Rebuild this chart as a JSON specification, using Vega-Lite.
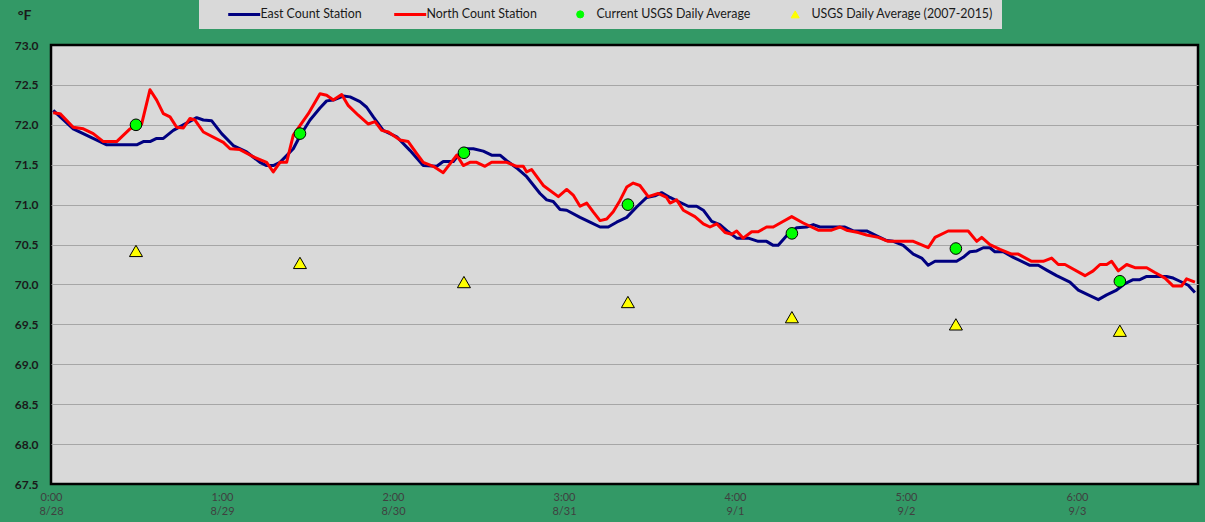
{
  "$schema": "https://vega.github.io/schema/vega-lite/v6.json",
  "width": 1147,
  "height": 439,
  "autosize": {"type": "none"},
  "padding": {"left": 51, "top": 45, "right": 7, "bottom": 38},
  "background": "#339966",
  "config": {
    "font": "Lato",
    "view": {"fill": "#d9d9d9", "stroke": "#000000", "strokeWidth": 2.5},
    "axisY": {"labelOverlap": false, "labelFlush": false}
  },
  "data": {
    "values": [
      {"s": "East Count Station", "t": 0.013, "v": 72.18},
      {"s": "East Count Station", "t": 0.13, "v": 71.95},
      {"s": "East Count Station", "t": 0.326, "v": 71.75},
      {"s": "East Count Station", "t": 0.501, "v": 71.75},
      {"s": "East Count Station", "t": 0.54, "v": 71.79},
      {"s": "East Count Station", "t": 0.579, "v": 71.79},
      {"s": "East Count Station", "t": 0.618, "v": 71.83},
      {"s": "East Count Station", "t": 0.657, "v": 71.83},
      {"s": "East Count Station", "t": 0.715, "v": 71.93},
      {"s": "East Count Station", "t": 0.774, "v": 72.0},
      {"s": "East Count Station", "t": 0.852, "v": 72.09},
      {"s": "East Count Station", "t": 0.891, "v": 72.06},
      {"s": "East Count Station", "t": 0.94, "v": 72.05},
      {"s": "East Count Station", "t": 0.998, "v": 71.89},
      {"s": "East Count Station", "t": 1.066, "v": 71.74},
      {"s": "East Count Station", "t": 1.144, "v": 71.66},
      {"s": "East Count Station", "t": 1.222, "v": 71.53},
      {"s": "East Count Station", "t": 1.261, "v": 71.49},
      {"s": "East Count Station", "t": 1.3, "v": 71.49},
      {"s": "East Count Station", "t": 1.339, "v": 71.53},
      {"s": "East Count Station", "t": 1.417, "v": 71.7},
      {"s": "East Count Station", "t": 1.456, "v": 71.86},
      {"s": "East Count Station", "t": 1.515, "v": 72.06},
      {"s": "East Count Station", "t": 1.573, "v": 72.21},
      {"s": "East Count Station", "t": 1.612, "v": 72.3},
      {"s": "East Count Station", "t": 1.651, "v": 72.31},
      {"s": "East Count Station", "t": 1.709, "v": 72.36},
      {"s": "East Count Station", "t": 1.749, "v": 72.35},
      {"s": "East Count Station", "t": 1.807, "v": 72.29},
      {"s": "East Count Station", "t": 1.846, "v": 72.22},
      {"s": "East Count Station", "t": 1.885, "v": 72.1},
      {"s": "East Count Station", "t": 1.943, "v": 71.93},
      {"s": "East Count Station", "t": 2.022, "v": 71.85},
      {"s": "East Count Station", "t": 2.099, "v": 71.68},
      {"s": "East Count Station", "t": 2.177, "v": 71.49},
      {"s": "East Count Station", "t": 2.256, "v": 71.48},
      {"s": "East Count Station", "t": 2.294, "v": 71.54},
      {"s": "East Count Station", "t": 2.353, "v": 71.54},
      {"s": "East Count Station", "t": 2.411, "v": 71.7},
      {"s": "East Count Station", "t": 2.47, "v": 71.7},
      {"s": "East Count Station", "t": 2.528, "v": 71.67},
      {"s": "East Count Station", "t": 2.577, "v": 71.62},
      {"s": "East Count Station", "t": 2.626, "v": 71.62},
      {"s": "East Count Station", "t": 2.665, "v": 71.55},
      {"s": "East Count Station", "t": 2.723, "v": 71.46},
      {"s": "East Count Station", "t": 2.782, "v": 71.35},
      {"s": "East Count Station", "t": 2.86, "v": 71.14},
      {"s": "East Count Station", "t": 2.899, "v": 71.06},
      {"s": "East Count Station", "t": 2.937, "v": 71.04},
      {"s": "East Count Station", "t": 2.977, "v": 70.94},
      {"s": "East Count Station", "t": 3.016, "v": 70.93},
      {"s": "East Count Station", "t": 3.094, "v": 70.84},
      {"s": "East Count Station", "t": 3.152, "v": 70.78},
      {"s": "East Count Station", "t": 3.211, "v": 70.72},
      {"s": "East Count Station", "t": 3.259, "v": 70.72},
      {"s": "East Count Station", "t": 3.308, "v": 70.78},
      {"s": "East Count Station", "t": 3.367, "v": 70.84},
      {"s": "East Count Station", "t": 3.425, "v": 70.97},
      {"s": "East Count Station", "t": 3.484, "v": 71.09},
      {"s": "East Count Station", "t": 3.532, "v": 71.11},
      {"s": "East Count Station", "t": 3.571, "v": 71.15},
      {"s": "East Count Station", "t": 3.62, "v": 71.09},
      {"s": "East Count Station", "t": 3.678, "v": 71.03},
      {"s": "East Count Station", "t": 3.727, "v": 70.98},
      {"s": "East Count Station", "t": 3.776, "v": 70.98},
      {"s": "East Count Station", "t": 3.815, "v": 70.93},
      {"s": "East Count Station", "t": 3.864, "v": 70.79},
      {"s": "East Count Station", "t": 3.912, "v": 70.75},
      {"s": "East Count Station", "t": 3.961, "v": 70.66},
      {"s": "East Count Station", "t": 4.01, "v": 70.58},
      {"s": "East Count Station", "t": 4.078, "v": 70.58},
      {"s": "East Count Station", "t": 4.136, "v": 70.54},
      {"s": "East Count Station", "t": 4.185, "v": 70.54},
      {"s": "East Count Station", "t": 4.224, "v": 70.49},
      {"s": "East Count Station", "t": 4.253, "v": 70.49},
      {"s": "East Count Station", "t": 4.302, "v": 70.61},
      {"s": "East Count Station", "t": 4.361, "v": 70.71},
      {"s": "East Count Station", "t": 4.419, "v": 70.72},
      {"s": "East Count Station", "t": 4.458, "v": 70.75},
      {"s": "East Count Station", "t": 4.497, "v": 70.72},
      {"s": "East Count Station", "t": 4.575, "v": 70.72},
      {"s": "East Count Station", "t": 4.643, "v": 70.72},
      {"s": "East Count Station", "t": 4.692, "v": 70.67},
      {"s": "East Count Station", "t": 4.77, "v": 70.67},
      {"s": "East Count Station", "t": 4.829, "v": 70.61},
      {"s": "East Count Station", "t": 4.887, "v": 70.55},
      {"s": "East Count Station", "t": 4.926, "v": 70.54},
      {"s": "East Count Station", "t": 4.984, "v": 70.49},
      {"s": "East Count Station", "t": 5.043, "v": 70.38},
      {"s": "East Count Station", "t": 5.092, "v": 70.33},
      {"s": "East Count Station", "t": 5.13, "v": 70.24},
      {"s": "East Count Station", "t": 5.17, "v": 70.29},
      {"s": "East Count Station", "t": 5.296, "v": 70.29},
      {"s": "East Count Station", "t": 5.335, "v": 70.34},
      {"s": "East Count Station", "t": 5.374, "v": 70.41},
      {"s": "East Count Station", "t": 5.414, "v": 70.42},
      {"s": "East Count Station", "t": 5.452, "v": 70.46},
      {"s": "East Count Station", "t": 5.491, "v": 70.46},
      {"s": "East Count Station", "t": 5.52, "v": 70.41},
      {"s": "East Count Station", "t": 5.569, "v": 70.41},
      {"s": "East Count Station", "t": 5.628, "v": 70.34},
      {"s": "East Count Station", "t": 5.725, "v": 70.24},
      {"s": "East Count Station", "t": 5.774, "v": 70.24},
      {"s": "East Count Station", "t": 5.823, "v": 70.18},
      {"s": "East Count Station", "t": 5.881, "v": 70.11},
      {"s": "East Count Station", "t": 5.959, "v": 70.03},
      {"s": "East Count Station", "t": 6.008, "v": 69.93},
      {"s": "East Count Station", "t": 6.066, "v": 69.87},
      {"s": "East Count Station", "t": 6.125, "v": 69.81},
      {"s": "East Count Station", "t": 6.174, "v": 69.87},
      {"s": "East Count Station", "t": 6.232, "v": 69.93},
      {"s": "East Count Station", "t": 6.281, "v": 70.01},
      {"s": "East Count Station", "t": 6.329, "v": 70.06},
      {"s": "East Count Station", "t": 6.368, "v": 70.06},
      {"s": "East Count Station", "t": 6.408, "v": 70.1},
      {"s": "East Count Station", "t": 6.524, "v": 70.1},
      {"s": "East Count Station", "t": 6.563, "v": 70.08},
      {"s": "East Count Station", "t": 6.602, "v": 70.04},
      {"s": "East Count Station", "t": 6.651, "v": 69.99},
      {"s": "East Count Station", "t": 6.69, "v": 69.9},
      {"s": "North Count Station", "t": 0.013, "v": 72.15},
      {"s": "North Count Station", "t": 0.053, "v": 72.14},
      {"s": "North Count Station", "t": 0.13, "v": 71.97},
      {"s": "North Count Station", "t": 0.189, "v": 71.95},
      {"s": "North Count Station", "t": 0.247, "v": 71.89},
      {"s": "North Count Station", "t": 0.306, "v": 71.79},
      {"s": "North Count Station", "t": 0.384, "v": 71.79},
      {"s": "North Count Station", "t": 0.462, "v": 71.95},
      {"s": "North Count Station", "t": 0.53, "v": 72.01},
      {"s": "North Count Station", "t": 0.579, "v": 72.44},
      {"s": "North Count Station", "t": 0.618, "v": 72.31},
      {"s": "North Count Station", "t": 0.657, "v": 72.14},
      {"s": "North Count Station", "t": 0.696, "v": 72.1},
      {"s": "North Count Station", "t": 0.735, "v": 71.97},
      {"s": "North Count Station", "t": 0.774, "v": 71.96},
      {"s": "North Count Station", "t": 0.813, "v": 72.08},
      {"s": "North Count Station", "t": 0.842, "v": 72.06},
      {"s": "North Count Station", "t": 0.891, "v": 71.91},
      {"s": "North Count Station", "t": 1.008, "v": 71.78},
      {"s": "North Count Station", "t": 1.047, "v": 71.7},
      {"s": "North Count Station", "t": 1.105, "v": 71.69},
      {"s": "North Count Station", "t": 1.183, "v": 71.6},
      {"s": "North Count Station", "t": 1.261, "v": 71.53},
      {"s": "North Count Station", "t": 1.3, "v": 71.41},
      {"s": "North Count Station", "t": 1.339, "v": 71.53},
      {"s": "North Count Station", "t": 1.378, "v": 71.53},
      {"s": "North Count Station", "t": 1.417, "v": 71.87},
      {"s": "North Count Station", "t": 1.456, "v": 71.99},
      {"s": "North Count Station", "t": 1.505, "v": 72.14},
      {"s": "North Count Station", "t": 1.573, "v": 72.39},
      {"s": "North Count Station", "t": 1.612, "v": 72.37},
      {"s": "North Count Station", "t": 1.651, "v": 72.31},
      {"s": "North Count Station", "t": 1.7, "v": 72.38},
      {"s": "North Count Station", "t": 1.739, "v": 72.24},
      {"s": "North Count Station", "t": 1.797, "v": 72.12},
      {"s": "North Count Station", "t": 1.856, "v": 72.01},
      {"s": "North Count Station", "t": 1.895, "v": 72.04},
      {"s": "North Count Station", "t": 1.934, "v": 71.93},
      {"s": "North Count Station", "t": 1.973, "v": 71.91},
      {"s": "North Count Station", "t": 2.041, "v": 71.81},
      {"s": "North Count Station", "t": 2.089, "v": 71.79},
      {"s": "North Count Station", "t": 2.139, "v": 71.64},
      {"s": "North Count Station", "t": 2.177, "v": 71.53},
      {"s": "North Count Station", "t": 2.236, "v": 71.48},
      {"s": "North Count Station", "t": 2.294, "v": 71.4},
      {"s": "North Count Station", "t": 2.373, "v": 71.62},
      {"s": "North Count Station", "t": 2.411, "v": 71.49},
      {"s": "North Count Station", "t": 2.45, "v": 71.53},
      {"s": "North Count Station", "t": 2.489, "v": 71.53},
      {"s": "North Count Station", "t": 2.538, "v": 71.48},
      {"s": "North Count Station", "t": 2.577, "v": 71.53},
      {"s": "North Count Station", "t": 2.665, "v": 71.53},
      {"s": "North Count Station", "t": 2.723, "v": 71.48},
      {"s": "North Count Station", "t": 2.762, "v": 71.48},
      {"s": "North Count Station", "t": 2.782, "v": 71.41},
      {"s": "North Count Station", "t": 2.811, "v": 71.44},
      {"s": "North Count Station", "t": 2.879, "v": 71.24},
      {"s": "North Count Station", "t": 2.967, "v": 71.1},
      {"s": "North Count Station", "t": 3.016, "v": 71.19},
      {"s": "North Count Station", "t": 3.054, "v": 71.12},
      {"s": "North Count Station", "t": 3.094, "v": 70.98},
      {"s": "North Count Station", "t": 3.133, "v": 71.02},
      {"s": "North Count Station", "t": 3.171, "v": 70.91},
      {"s": "North Count Station", "t": 3.211, "v": 70.8},
      {"s": "North Count Station", "t": 3.25, "v": 70.82},
      {"s": "North Count Station", "t": 3.288, "v": 70.91},
      {"s": "North Count Station", "t": 3.327, "v": 71.05},
      {"s": "North Count Station", "t": 3.367, "v": 71.22},
      {"s": "North Count Station", "t": 3.405, "v": 71.27},
      {"s": "North Count Station", "t": 3.444, "v": 71.24},
      {"s": "North Count Station", "t": 3.493, "v": 71.1},
      {"s": "North Count Station", "t": 3.551, "v": 71.14},
      {"s": "North Count Station", "t": 3.6, "v": 71.09},
      {"s": "North Count Station", "t": 3.62, "v": 71.02},
      {"s": "North Count Station", "t": 3.659, "v": 71.06},
      {"s": "North Count Station", "t": 3.698, "v": 70.93},
      {"s": "North Count Station", "t": 3.766, "v": 70.85},
      {"s": "North Count Station", "t": 3.815, "v": 70.76},
      {"s": "North Count Station", "t": 3.854, "v": 70.72},
      {"s": "North Count Station", "t": 3.893, "v": 70.76},
      {"s": "North Count Station", "t": 3.942, "v": 70.65},
      {"s": "North Count Station", "t": 3.981, "v": 70.63},
      {"s": "North Count Station", "t": 4.01, "v": 70.67},
      {"s": "North Count Station", "t": 4.048, "v": 70.58},
      {"s": "North Count Station", "t": 4.098, "v": 70.66},
      {"s": "North Count Station", "t": 4.136, "v": 70.66},
      {"s": "North Count Station", "t": 4.185, "v": 70.72},
      {"s": "North Count Station", "t": 4.224, "v": 70.72},
      {"s": "North Count Station", "t": 4.273, "v": 70.78},
      {"s": "North Count Station", "t": 4.332, "v": 70.85},
      {"s": "North Count Station", "t": 4.399, "v": 70.77},
      {"s": "North Count Station", "t": 4.487, "v": 70.68},
      {"s": "North Count Station", "t": 4.565, "v": 70.68},
      {"s": "North Count Station", "t": 4.614, "v": 70.72},
      {"s": "North Count Station", "t": 4.653, "v": 70.68},
      {"s": "North Count Station", "t": 4.721, "v": 70.65},
      {"s": "North Count Station", "t": 4.77, "v": 70.62},
      {"s": "North Count Station", "t": 4.838, "v": 70.59},
      {"s": "North Count Station", "t": 4.896, "v": 70.54},
      {"s": "North Count Station", "t": 5.043, "v": 70.54},
      {"s": "North Count Station", "t": 5.13, "v": 70.46},
      {"s": "North Count Station", "t": 5.17, "v": 70.59},
      {"s": "North Count Station", "t": 5.247, "v": 70.67},
      {"s": "North Count Station", "t": 5.364, "v": 70.67},
      {"s": "North Count Station", "t": 5.414, "v": 70.54},
      {"s": "North Count Station", "t": 5.443, "v": 70.59},
      {"s": "North Count Station", "t": 5.491, "v": 70.5},
      {"s": "North Count Station", "t": 5.55, "v": 70.44},
      {"s": "North Count Station", "t": 5.618, "v": 70.38},
      {"s": "North Count Station", "t": 5.657, "v": 70.38},
      {"s": "North Count Station", "t": 5.735, "v": 70.29},
      {"s": "North Count Station", "t": 5.803, "v": 70.29},
      {"s": "North Count Station", "t": 5.852, "v": 70.33},
      {"s": "North Count Station", "t": 5.891, "v": 70.25},
      {"s": "North Count Station", "t": 5.93, "v": 70.25},
      {"s": "North Count Station", "t": 6.047, "v": 70.11},
      {"s": "North Count Station", "t": 6.095, "v": 70.17},
      {"s": "North Count Station", "t": 6.135, "v": 70.25},
      {"s": "North Count Station", "t": 6.174, "v": 70.25},
      {"s": "North Count Station", "t": 6.203, "v": 70.29},
      {"s": "North Count Station", "t": 6.242, "v": 70.17},
      {"s": "North Count Station", "t": 6.291, "v": 70.25},
      {"s": "North Count Station", "t": 6.339, "v": 70.21},
      {"s": "North Count Station", "t": 6.408, "v": 70.21},
      {"s": "North Count Station", "t": 6.456, "v": 70.15},
      {"s": "North Count Station", "t": 6.515, "v": 70.08},
      {"s": "North Count Station", "t": 6.563, "v": 69.98},
      {"s": "North Count Station", "t": 6.612, "v": 69.98},
      {"s": "North Count Station", "t": 6.641, "v": 70.07},
      {"s": "North Count Station", "t": 6.69, "v": 70.03},
      {"s": "Current USGS Daily Average", "t": 0.497, "v": 72.0},
      {"s": "Current USGS Daily Average", "t": 1.456, "v": 71.89},
      {"s": "Current USGS Daily Average", "t": 2.415, "v": 71.65},
      {"s": "Current USGS Daily Average", "t": 3.374, "v": 71.0},
      {"s": "Current USGS Daily Average", "t": 4.333, "v": 70.64},
      {"s": "Current USGS Daily Average", "t": 5.292, "v": 70.45},
      {"s": "Current USGS Daily Average", "t": 6.251, "v": 70.04},
      {"s": "USGS Daily Average (2007-2015)", "t": 0.497, "v": 70.42},
      {"s": "USGS Daily Average (2007-2015)", "t": 1.456, "v": 70.27},
      {"s": "USGS Daily Average (2007-2015)", "t": 2.415, "v": 70.03},
      {"s": "USGS Daily Average (2007-2015)", "t": 3.374, "v": 69.78},
      {"s": "USGS Daily Average (2007-2015)", "t": 4.333, "v": 69.59},
      {"s": "USGS Daily Average (2007-2015)", "t": 5.292, "v": 69.5},
      {"s": "USGS Daily Average (2007-2015)", "t": 6.251, "v": 69.42}
    ]
  },
  "encoding": {
    "x": {
      "field": "t", "type": "quantitative",
      "scale": {"domain": [0, 6.708], "nice": false, "zero": false},
      "axis": {
        "title": null,
        "values": [0, 1, 2, 3, 4, 5, 6],
        "labelExpr": "[datum.value + ':00', ['8/28','8/29','8/30','8/31','9/1','9/2','9/3'][datum.value]]",
        "grid": false, "ticks": false, "tickSize": 0, "domain": false,
        "labelFlush": false, "labelOverlap": false,
        "labelPadding": 7, "labelFontSize": 11, "labelColor": "#404040", "labelLineHeight": 14
      }
    },
    "y": {
      "field": "v", "type": "quantitative",
      "scale": {"domain": [67.5, 73], "nice": false, "zero": false},
      "axis": {
        "values": [67.5, 68, 68.5, 69, 69.5, 70, 70.5, 71, 71.5, 72, 72.5, 73],
        "labelExpr": "format(datum.value, '.1f')",
        "labelOverlap": false, "labelFlush": false, "labelBound": false,
        "grid": true, "gridColor": "#a6a6a6", "gridWidth": 1.2,
        "gridOpacity": {"condition": {"test": "datum.value === 73 || datum.value === 67.5", "value": 0}, "value": 1},
        "ticks": false, "tickSize": 0, "domain": false,
        "labelPadding": 13, "labelFontSize": 12, "labelFontWeight": "bold", "labelColor": "#1a1a1a",
        "title": "°F", "titleAngle": 0, "titleX": -27, "titleY": -30,
        "titleAlign": "center", "titleBaseline": "middle",
        "titleFontSize": 14, "titleFontWeight": "bold", "titleColor": "#1a1a1a"
      }
    }
  },
  "layer": [
    {
      "transform": [{"filter": "datum.s === 'East Count Station' || datum.s === 'North Count Station'"}],
      "mark": {"type": "line", "strokeWidth": 3, "strokeJoin": "round"},
      "encoding": {
        "stroke": {
          "field": "s", "type": "nominal",
          "scale": {
            "domain": ["East Count Station", "North Count Station", "Current USGS Daily Average", "USGS Daily Average (2007-2015)"],
            "range": ["#000080", "#ff0000", "#00ff00", "#ffff00"]
          },
          "legend": {
            "orient": "none", "legendX": 148, "legendY": -45,
            "direction": "horizontal", "columns": 4, "gridAlign": "each",
            "title": " ", "titleOrient": "left", "titlePadding": 20, "titleFontSize": 12,
            "fillColor": "#d9d9d9", "padding": 8,
            "columnPadding": 26,
            "labelFontSize": 12.4, "labelColor": "#1a1a1a", "labelFont": "Lato", "labelLimit": 400,
            "symbolType": "stroke", "symbolSize": 100,
            "symbolOffset": 11, "labelOffset": 10,
            "encode": {
              "symbols": {
                "update": {
                  "shape": {"signal": "datum.value === 'Current USGS Daily Average' ? 'circle' : datum.value === 'USGS Daily Average (2007-2015)' ? 'triangle-up' : 'stroke'"},
                  "fill": {"signal": "datum.value === 'Current USGS Daily Average' ? '#00ff00' : datum.value === 'USGS Daily Average (2007-2015)' ? '#ffff00' : 'transparent'"},
                  "stroke": {"signal": "datum.value === 'East Count Station' ? '#000080' : datum.value === 'North Count Station' ? '#ff0000' : '#000000'"},
                  "strokeWidth": {"signal": "datum.value === 'East Count Station' || datum.value === 'North Count Station' ? 3 : 1"},
                  "size": {"signal": "datum.value === 'East Count Station' || datum.value === 'North Count Station' ? 1024 : datum.value === 'Current USGS Daily Average' ? 50 : 64"},
                  "opacity": {"value": 1}
                }
              }
            }
          }
        }
      }
    },
    {
      "transform": [{"filter": "datum.s === 'Current USGS Daily Average'"}],
      "mark": {"type": "point", "shape": "circle", "filled": true, "fill": "#00ff00", "stroke": "#000000", "strokeWidth": 1, "size": 135, "opacity": 1}
    },
    {
      "transform": [{"filter": "datum.s === 'USGS Daily Average (2007-2015)'"}],
      "mark": {"type": "point", "shape": "triangle-up", "filled": true, "fill": "#ffff00", "stroke": "#000000", "strokeWidth": 1, "size": 170, "opacity": 1}
    }
  ]
}
